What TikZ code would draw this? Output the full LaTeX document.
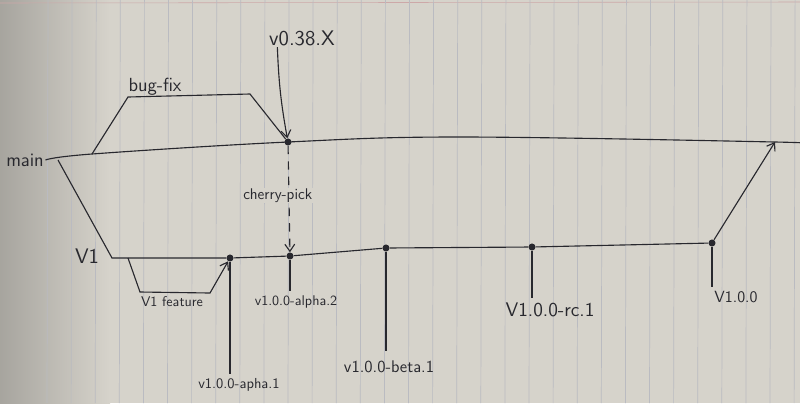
\documentclass[tikz,border=0pt]{standalone}
\usepackage{fontspec}
\usetikzlibrary{arrows.meta}
\definecolor{ink}{RGB}{40,40,46}
\definecolor{paper}{RGB}{214,211,203}
\definecolor{rulecolor}{RGB}{186,187,193}
\definecolor{margincolor}{RGB}{205,168,168}

\begin{document}
\begin{tikzpicture}[x=0.025cm,y=-0.025cm,
    branch/.style={ink,line width=0.8pt},
    merge/.style={branch,-{Straight Barb[length=5pt,width=7pt]}},
    tagline/.style={branch,shorten >=2pt},
    commit/.style={circle,fill=ink,inner sep=0pt,minimum size=5pt},
    lbl/.style={text=ink,inner sep=1pt,font=\fontsize{#1}{#1}\sffamily},
    lbl/.default=12]
  \useasboundingbox (0,0) rectangle (800,403);
  % lined paper
  \fill[paper] (0,0) rectangle (800,403);
  \shade[left color=paper!78!black,right color=paper] (0,0) rectangle (110,403);
  \draw[margincolor,line width=0.4pt] (0,3) -- (800,2);
  \foreach \k in {0,...,31}
    \draw[rulecolor,line width=0.5pt] ({48+24.1*\k},0) -- ({47+24.1*\k},403);

  % main branch
  \node[lbl=13.5] (lmain) at (25,160) {main};
  \coordinate (mfork) at (92,154);
  \node[commit] (pick) at (288,142) {};
  \coordinate (mmerge) at (775,142);
  \coordinate (mend) at (800,144);
  \draw[branch] plot[smooth,tension=0.6] coordinates
    {(lmain.east) (mfork) (pick) (460,137) (mmerge) (mend)};

  % bug-fix
  \coordinate (bug1) at (128,97);
  \coordinate (bug2) at (250,94);
  \draw[branch] (mfork) -- (bug1) -- (bug2) -- (pick);
  \node[lbl=13.5,anchor=south] (lbug) at (155,97) {bug-fix};

  % tag on main
  \node[lbl=15] (v038) at (302,38) {v0.38.X};
  \draw[merge] ([xshift=7pt]v038.south west) to[bend right=4] (pick);

  % v1 branch
  \node[lbl=15] (lv1) at (87,256) {V1};
  \coordinate (m1) at (58,160);
  \coordinate (v1start) at (112,258);
  \coordinate (fstart) at (128,258);
  \node[commit] (alpha1) at (230,258) {};
  \node[commit] (alpha2) at (290,256) {};
  \node[commit] (beta1) at (386,248) {};
  \node[commit] (rc1) at (532,247) {};
  \node[commit] (final) at (712,243) {};
  \draw[branch] (m1) -- (v1start) -- (alpha1) -- (alpha2) -- (beta1) -- (rc1) -- (final);

  % v1 feature
  \coordinate (feat1) at (140,292);
  \coordinate (feat2) at (210,293);
  \draw[merge] (fstart) -- (feat1) -- (feat2) -- (alpha1);
  \node[lbl=10,anchor=north] (lfeat) at (172,295) {V1 feature};

  % cherry-pick
  \draw[merge,dash pattern=on 6pt off 5pt] (pick) -- (alpha2)
    node[pos=0.47,lbl=11,fill=paper,inner sep=0.5pt,xshift=-8pt] (lpick) {cherry-pick};

  % back to main
  \draw[merge] (final) -- (mmerge);

  % tags on v1
  \node[lbl=10.3] (lalpha1) at (239,385) {v1.0.0-apha.1};
  \node[lbl=10] (lalpha2) at (296,302) {v1.0.0-alpha.2};
  \node[lbl=12] (lbeta1) at (389,367) {v1.0.0-beta.1};
  \node[lbl=14] (lrc1) at (550,310) {V1.0.0-rc.1};
  \node[lbl=11.5] (lfinal) at (736,297) {V1.0.0};
  \draw[tagline] (alpha1) -- (alpha1 |- lalpha1.north);
  \draw[tagline] (alpha2) -- (alpha2 |- lalpha2.north);
  \draw[tagline,shorten >=6pt] (beta1) -- (beta1 |- lbeta1.north);
  \draw[tagline] (rc1) -- (rc1 |- lrc1.north);
  \draw[tagline] (final) -- (final |- lfinal.north);
\end{tikzpicture}
\end{document}
